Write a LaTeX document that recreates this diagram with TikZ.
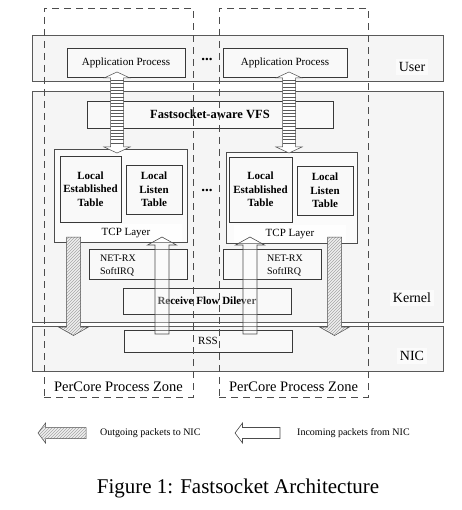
\documentclass[tikz,border=0pt]{standalone}
\usepackage{fontspec}
\setmainfont{Liberation Serif}
\usetikzlibrary{patterns}
\begin{document}
\begin{tikzpicture}[x=1pt,y=-1pt,
  band/.style={draw=gray!70!black, line width=0.6pt, fill=gray!8, minimum width=411pt, inner sep=0pt},
  box/.style={draw=gray!45!black, line width=0.7pt, fill=gray!5, inner sep=0pt, align=center},
  grp/.style={draw=gray!60!black, line width=0.5pt, fill=gray!3, inner sep=0pt},
  zone/.style={draw=gray!60!black, line width=0.7pt, dash pattern=on 7pt off 5pt, inner sep=0pt},
  lbl/.style={fill=white, fill opacity=0.6, text opacity=1, inner sep=3pt, font=\fontsize{14}{16}\selectfont},
  txt/.style={font=\fontsize{11}{13.5}\selectfont},
  btxt/.style={font=\fontsize{11}{13.5}\selectfont\bfseries},
  dots/.style={font=\fontsize{15}{16}\selectfont\bfseries, inner sep=0pt},
  hatch/.style={preaction={fill=gray!12}, pattern=north east lines, pattern color=gray!70, draw=gray!60!black, line width=0.5pt},
  hollow/.style={fill=white, fill opacity=0.35, draw=gray!60!black, line width=0.6pt},
]
\useasboundingbox (0,0) rectangle (461,510);

% bands
\node[band, minimum height=46pt] (user) at (237.5,58) {};
\node[band, minimum height=231pt] (kernel) at (237.5,206.5) {};
\node[band, minimum height=45pt] (nic) at (237.5,348.5) {};
\node[lbl] (userl) at (412,67) {User};
\node[lbl] (kernell) at (412,298) {Kernel};
\node[lbl] (nicl) at (412,356) {NIC};

% user
\node[box, minimum width=118pt, minimum height=29pt, txt] (app1) at (126,62.5) {Application Process};
\node[box, minimum width=124pt, minimum height=29pt, txt] (app2) at (285,62.5) {Application Process};
\node[dots] (dotsA) at (207,60) {...};

% kernel
\node[box, minimum width=246pt, minimum height=27pt, font=\fontsize{12.5}{14}\selectfont\bfseries] (vfs) at (210,114.5) {Fastsocket-aware VFS};

\node[grp, minimum width=133pt, minimum height=93pt] (tcp1) at (120.5,195.5) {};
\node[grp, minimum width=131pt, minimum height=91pt] (tcp2) at (291.5,197.5) {};
\node[fill=white, fill opacity=0.8, text opacity=1, minimum width=112pt, minimum height=18pt, inner sep=0pt, txt] (tcpl1) at (126,233) {TCP Layer};
\node[fill=white, fill opacity=0.8, text opacity=1, minimum width=112pt, minimum height=18pt, inner sep=0pt, txt] (tcpl2) at (290,234) {TCP Layer};

\node[box, minimum width=61pt, minimum height=66pt, btxt] (let1) at (90.5,189) {Local\\Established\\Table};
\node[box, minimum width=56pt, minimum height=49pt, btxt] (llt1) at (154,189.5) {Local\\Listen\\Table};
\node[box, minimum width=63pt, minimum height=65pt, btxt] (let2) at (260.5,189.5) {Local\\Established\\Table};
\node[box, minimum width=56pt, minimum height=49pt, btxt] (llt2) at (325,190.5) {Local\\Listen\\Table};
\node[dots] (dotsB) at (207,190) {...};

\node[box, minimum width=98pt, minimum height=30pt] (netrx1) at (138,264) {};
\node[box, minimum width=98pt, minimum height=30pt] (netrx2) at (272,264) {};
\node[align=left, inner sep=0pt, font=\fontsize{10}{12.5}\selectfont] (netrx1t) at (118,265.5) {NET-RX\\SoftIRQ};
\node[align=left, inner sep=0pt, font=\fontsize{10}{12.5}\selectfont] (netrx2t) at (285,265.5) {NET-RX\\SoftIRQ};

\node[box, minimum width=168pt, minimum height=26pt, btxt] (rfd) at (207,301) {Receive Flow Dilever};

% nic
\node[box, minimum width=168pt, minimum height=22pt, txt] (rss) at (208,341) {RSS};

% ladder double arrows (app <-> tables)
\foreach \cx/\nm in {117/L, 289/R}{
  \path[fill=white, draw=gray!60!black, line width=0.5pt]
    (\cx,72) -- (\cx+13,78) -- (\cx+6.5,78) -- (\cx+6.5,147) -- (\cx+13,147) -- (\cx,153)
    -- (\cx-13,147) -- (\cx-6.5,147) -- (\cx-6.5,78) -- (\cx-13,78) -- cycle;
  \foreach \yy in {80.3,83.6,...,145}{
    \draw[gray!70!black, line width=0.45pt] (\cx-6.5,\yy) -- (\cx+6.5,\yy);
  }
}

% outgoing (hatched, down)
\foreach \cx in {73.5,334.5}{
  \path[hatch] (\cx-7,237) -- (\cx+7,237) -- (\cx+7,327) -- (\cx+15,327) -- (\cx,335.5)
    -- (\cx-15,327) -- (\cx-7,327) -- cycle;
}

% incoming (hollow, up)
\foreach \cx in {162,250}{
  \path[hollow] (\cx,237) -- (\cx+14.5,245) -- (\cx+7,245) -- (\cx+7,334) -- (\cx-7,334)
    -- (\cx-7,245) -- (\cx-14.5,245) -- cycle;
}

% per-core zones
\node[zone, minimum width=149pt, minimum height=389pt] (zone1) at (118.5,202.5) {};
\node[zone, minimum width=149pt, minimum height=389pt] (zone2) at (293.5,202.5) {};
\node[font=\fontsize{14.5}{16}\selectfont] (zone1l) at (118.5,387) {PerCore Process Zone};
\node[font=\fontsize{14.5}{16}\selectfont] (zone2l) at (293.5,387) {PerCore Process Zone};

% legend
\path[hatch] (38,433) -- (45.5,423) -- (45.5,427.5) -- (86,427.5) -- (86,438.5) -- (45.5,438.5) -- (45.5,443) -- cycle;
\node[anchor=west, inner sep=0pt, font=\fontsize{10}{12}\selectfont] (legout) at (100,433) {Outgoing packets to NIC};
\path[hollow, fill opacity=1] (235,433) -- (242.5,423) -- (242.5,427.5) -- (280,427.5) -- (280,438.5) -- (242.5,438.5) -- (242.5,443) -- cycle;
\node[anchor=west, inner sep=0pt, font=\fontsize{10}{12}\selectfont] (legin) at (297,433) {Incoming packets from NIC};

% caption
\node[font=\fontsize{21}{24}\selectfont] (caption) at (238,488) {Figure 1: Fastsocket Architecture};
\end{tikzpicture}
\end{document}
